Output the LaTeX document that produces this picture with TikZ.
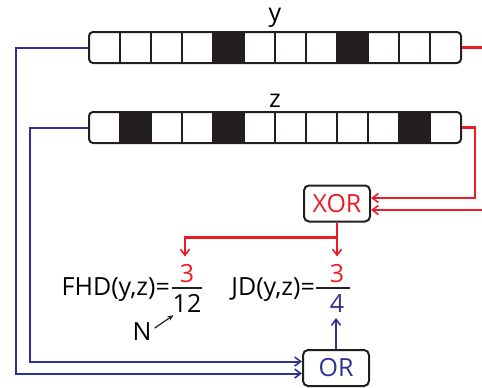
\documentclass[tikz,border=0pt]{standalone}
\usepackage{fontspec}
\setmainfont{Open Sans}
\usetikzlibrary{arrows.meta,calc}
\definecolor{myred}{RGB}{237,28,36}
\definecolor{myblue}{RGB}{46,49,146}
\definecolor{mydark}{RGB}{35,31,32}
\begin{document}
\begin{tikzpicture}[x=1pt,y=-1pt,
  txt/.style={font=\fontsize{25}{30}\selectfont, inner sep=0pt},
  gate/.style={draw=mydark, line width=2pt, rounded corners=5pt, minimum width=66pt, minimum height=36pt, font=\fontsize{25}{30}\selectfont, inner sep=0pt},
  bitbar/.style={draw=mydark, line width=2pt, rounded corners=4pt, minimum width=372pt, minimum height=31pt, inner sep=0pt},
  divider/.style={draw=mydark, line width=1.3pt},
  redline/.style={draw=myred, line width=2.1pt},
  blueline/.style={draw=myblue, line width=2pt},
  tip/.style={-{Straight Barb[length=6pt,width=9pt,line width=1.6pt]}},
  fracbar/.style={draw=mydark, line width=1.3pt}
]
\useasboundingbox (0,0) rectangle (482,388);
% y bar cells
\foreach \i in {4,8} \fill[mydark] (89+31*\i,32) rectangle ++(31,31);
\foreach \i in {1,...,11} \draw[divider] (89+31*\i,32) -- ++(0,31);
\node[bitbar] (ybar) at (275,47.5) {};
\node[txt, anchor=base] (ylab) at (275,21) {y};
% z bar cells
\foreach \i in {1,4,10} \fill[mydark] (89+31*\i,112) rectangle ++(31,31);
\foreach \i in {1,...,11} \draw[divider] (89+31*\i,112) -- ++(0,31);
\node[bitbar] (zbar) at (275,127.5) {};
\node[txt, anchor=base] (zlab) at (275,107) {z};
% gates
\node[gate, text=myred] (XOR) at (337,203.5) {XOR};
\node[gate, text=myblue] (OR) at (336,368) {OR};
% formulas
\node[txt, anchor=base east] (fhd) at (170,295) {FHD(y,z)=};
\node[txt, anchor=base, text=myred] (num1) at (187,282) {3};
\node[txt, anchor=base] (den1) at (187,312) {12};
\draw[fracbar] (172,288) -- (202,288);
\node[txt, anchor=base east] (jd) at (315,295) {JD(y,z)=};
\node[txt, anchor=base, text=myred] (num2) at (337,282) {3};
\node[txt, anchor=base, text=myblue] (den2) at (337,312) {4};
\draw[fracbar] (316,288) -- (350,288);
\node[txt, anchor=base] (Nlab) at (142,340) {N};
\draw[mydark, line width=1.2pt, -{Stealth[length=6pt,width=5pt]}] ($(Nlab.east)+(3,-3)$) -- ($(den1.south west)+(1,3)$);
% blue connectors
\draw[blueline, tip] (ybar.west) -- ++(-72,0) |- ($(OR.west)+(0,5.5)$);
\draw[blueline, tip] (zbar.west) -- ++(-58,0) |- ($(OR.west)+(0,-6.5)$);
\draw[blueline, tip] (OR.north) -- ++(0,-31);
% red connectors
\coordinate (yend) at (482,47.5);
\draw[redline] (ybar.east) -- (yend);
\draw[redline, tip] (zbar.east) -- ++(13,0) |- ($(XOR.east)+(0,-5.5)$);
\coordinate (xin) at (482,210);
\draw[redline, tip] (xin) -- ($(XOR.east)+(0,6.5)$);
\coordinate (split) at ($(XOR.south)+(0,15)$);
\draw[redline, tip] (XOR.south) -- ++(0,34);
\draw[redline, tip] (split) -| ($(split)+(-152,19)$);
\end{tikzpicture}
\end{document}
